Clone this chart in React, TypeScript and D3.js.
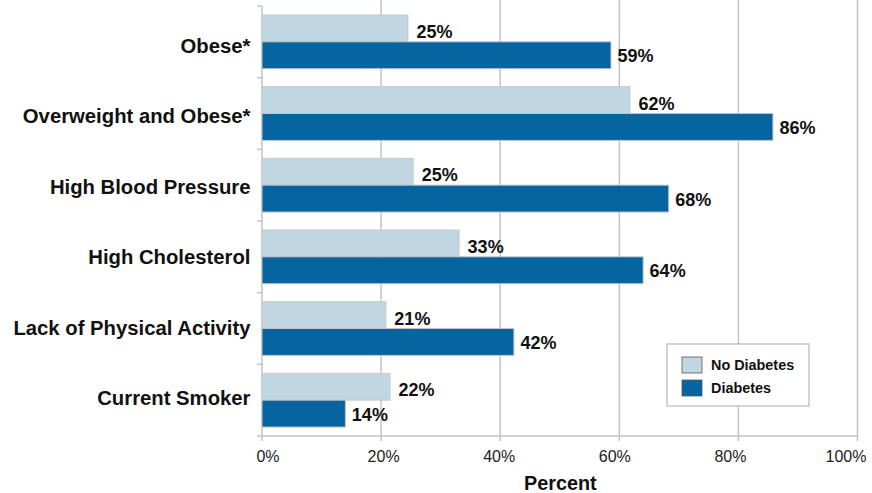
import React from "react";
import * as d3 from "d3";

const categories = [
  "Obese*",
  "Overweight and Obese*",
  "High Blood Pressure",
  "High Cholesterol",
  "Lack of Physical Activity",
  "Current Smoker",
];
const noDiabetes = [24.5, 61.8, 25.4, 33.1, 20.8, 21.5];
const diabetes = [58.6, 85.8, 68.3, 64.0, 42.3, 14.0];
const seriesNames = ["No Diabetes", "Diabetes"];
const xTicks = [0, 20, 40, 60, 80, 100];

const W = 872;
const H = 493;
const M = { left: 262, right: 14.5, top: 6, bottom: 57 };
const LIGHT = "#c0d6e2";
const DARK = "#0664a0";
const GRID = "#c4c4c4";

export default function App() {
  const x = d3.scaleLinear().domain([0, 100]).range([M.left, W - M.right]);
  const xLabel = d3.scaleLinear().domain([0, 100]).range([268, 846]);
  const y = d3
    .scaleBand<string>()
    .domain(categories)
    .range([M.top, H - M.bottom])
    .paddingInner(0.25)
    .paddingOuter(0.125);
  const yLabel = d3.scalePoint<string>().domain(categories).range([45.3, 397.8]);
  const sub = d3
    .scaleBand<string>()
    .domain(seriesNames)
    .range([0, y.bandwidth()]);
  const step = y.step();
  const series = [noDiabetes, diabetes];
  const colors = [LIGHT, DARK];
  const strokes = ["#c6cbce", "#c0c4c8"];
  const labelDx = [8.5, 6.5];
  const labelDy = [3, 0.5];
  const bottom = H - M.bottom;

  return (
    <svg
      width={W}
      height={H}
      style={{ position: "absolute", left: 0, top: 0, fontFamily: "Liberation Sans, Arial, sans-serif" }}
    >
      <rect width={W} height={H} fill="#fff" />
      {xTicks.slice(1).map((t) => (
        <line key={t} x1={x(t)} x2={x(t)} y1={0} y2={bottom + 5} stroke={GRID} strokeWidth={1.5} />
      ))}
      {/* left axis */}
      <line x1={x(0)} x2={x(0)} y1={M.top} y2={bottom + 5} stroke={GRID} strokeWidth={1.5} />
      {d3.range(categories.length + 1).map((i) => (
        <line
          key={i}
          x1={x(0) - 5}
          x2={x(0)}
          y1={M.top + i * step}
          y2={M.top + i * step}
          stroke={GRID}
          strokeWidth={1.5}
        />
      ))}
      <line x1={x(0)} x2={x(100)} y1={bottom} y2={bottom} stroke={GRID} strokeWidth={1.5} />
      {categories.map((c, i) => (
        <g key={c}>
          {series.map((s, j) => {
            const yy = (y(c) as number) + (sub(seriesNames[j]) as number);
            const h = sub.bandwidth();
            return (
              <g key={j}>
                <rect
                  x={x(0)}
                  y={yy}
                  width={x(s[i]) - x(0)}
                  height={h}
                  fill={colors[j]}
                  stroke={strokes[j]}
                  strokeWidth={1}
                />
                <text
                  x={x(s[i]) + labelDx[j]}
                  y={yy + h / 2 + labelDy[j]}
                  dy="0.36em"
                  fontSize={18}
                  fontWeight="bold"
                  fill="#111"
                >
                  {Math.round(s[i])}%
                </text>
              </g>
            );
          })}
          <text
            x={250.5}
            y={yLabel(c) as number}
            dy="0.36em"
            textAnchor="end"
            fontSize={20.3}
            fontWeight="bold"
            fill="#111"
          >
            {c}
          </text>
        </g>
      ))}
      {xTicks.map((t) => (
        <text key={t} x={xLabel(t)} y={462} textAnchor="middle" fontSize={16} fill="#222">
          {t}%
        </text>
      ))}
      <text x={560.3} y={490} textAnchor="middle" fontSize={19.8} fontWeight="bold" fill="#111">
        Percent
      </text>
      {/* legend */}
      <rect x={667} y={344} width={142} height={62} fill="#fff" stroke="#a8a8a8" strokeWidth={1} />
      {seriesNames.map((n, j) => (
        <g key={n}>
          <rect
            x={682}
            y={357 + j * 23}
            width={20}
            height={16}
            fill={colors[j]}
            stroke="#555"
            strokeWidth={0.8}
          />
          <text x={711} y={365 + j * 23} dy="0.36em" fontSize={14.4} fontWeight="bold" fill="#111">
            {n}
          </text>
        </g>
      ))}
    </svg>
  );
}
